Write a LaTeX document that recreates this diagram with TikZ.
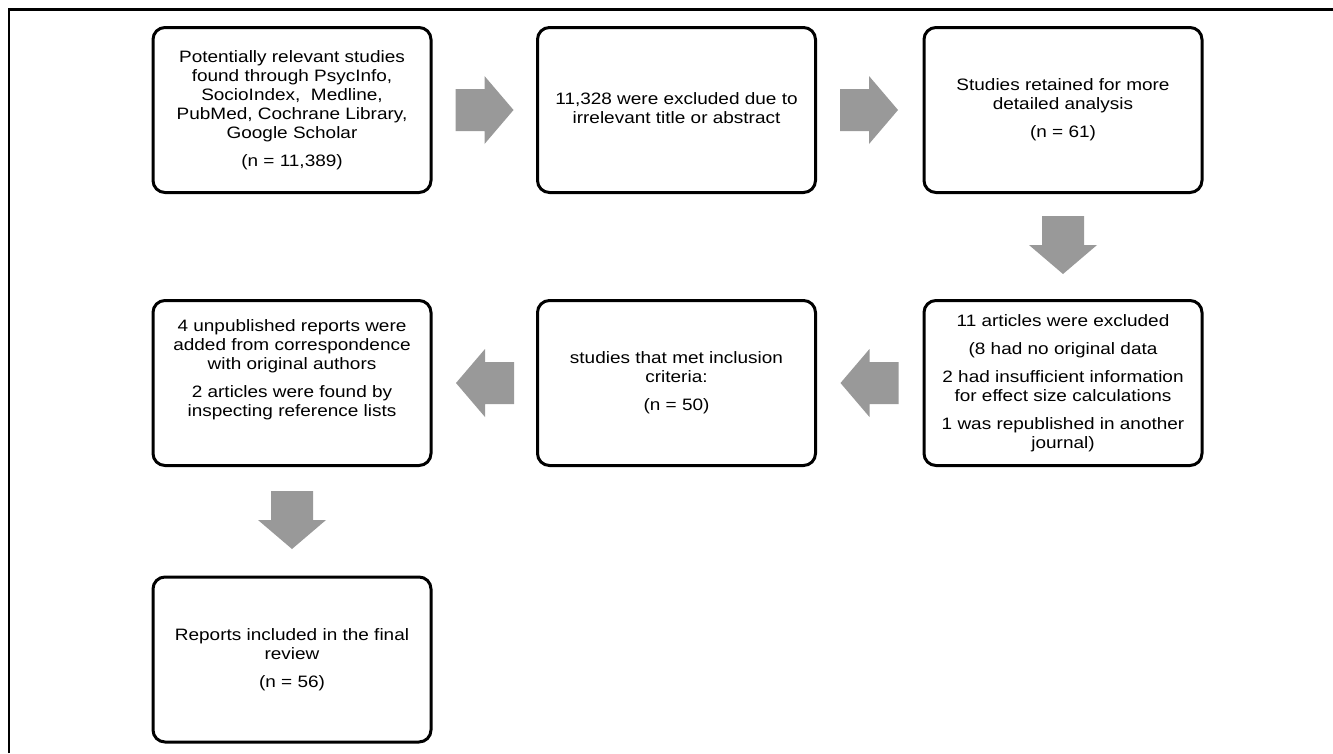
\documentclass[tikz,border=0pt]{standalone}
\usepackage{fontspec}
\setmainfont[FakeStretch=1.15]{Liberation Sans}
\definecolor{arrowgray}{RGB}{153,153,153}
\tikzset{
  box/.style={draw=black, line width=3pt, rounded corners=12pt, minimum width=278pt, minimum height=165pt, inner sep=0pt, align=center, fill=white},
  txt/.style={align=center, inner sep=0pt, font=\fontsize{16.5}{19}\selectfont},
  fat/.style={fill=arrowgray, draw=none}
}
\newcommand\fatarrow[2]{\fill[fat, shift={(#1)}, rotate=#2] (0pt,-21pt) -- (29pt,-21pt) -- (29pt,-34pt) -- (58pt,0pt) -- (29pt,34pt) -- (29pt,21pt) -- (0pt,21pt) -- cycle;}
\begin{document}
\begin{tikzpicture}[x=1pt, y=-1pt]
\useasboundingbox (0,0) rectangle (1333,753);
\fill[white] (0,0) rectangle (1333,753);
% page frame (top and left only)
\draw[line width=2.2pt, black] (9,753) -- (9,9.5) -- (1333,9.5);

% boxes
\node[box] (b1) at (292,110) {};
\node[txt] (t1) at (b1.center) {Potentially relevant studies\\found through PsycInfo,\\SocioIndex,\ \ Medline,\\PubMed, Cochrane Library,\\Google Scholar\\[9pt](n = 11,389)};
\node[box] (b2) at (676.5,110) {};
\node[txt] (t2) at ([yshift=2pt]b2.center) {11,328 were excluded due to\\irrelevant title or abstract};
\node[box] (b3) at (1063,110) {};
\node[txt] (t3) at (b3.center) {Studies retained for more\\detailed analysis\\[9pt](n = 61)};

\node[box] (b4) at (1063,383) {};
\node[txt] (t4) at (b4.center) {11 articles were excluded\\[9pt](8 had no original data\\[9pt]2 had insufficient information\\for effect size calculations\\[9pt]1 was republished in another\\journal)};
\node[box] (b5) at (676.5,383) {};
\node[txt] (t5) at (b5.center) {studies that met inclusion\\criteria:\\[9pt](n = 50)};
\node[box] (b6) at (292,383) {};
\node[txt] (t6) at ([yshift=13pt]b6.center) {4 unpublished reports were\\added from correspondence\\with original authors\\[9pt]2 articles were found by\\inspecting reference lists};

\node[box] (b7) at (292,659.5) {};
\node[txt] (t7) at (b7.center) {Reports included in the final\\review\\[9pt](n = 56)};

% block arrows
\fatarrow{[xshift=23pt]b1.east}{0}
\fatarrow{[xshift=23pt]b2.east}{0}
\fatarrow{[yshift=-22pt]b3.south}{-90}
\fatarrow{[xshift=-24pt]b4.west}{180}
\fatarrow{[xshift=-22pt]b5.west}{180}
\fatarrow{[yshift=-24pt]b6.south}{-90}
\end{tikzpicture}
\end{document}
